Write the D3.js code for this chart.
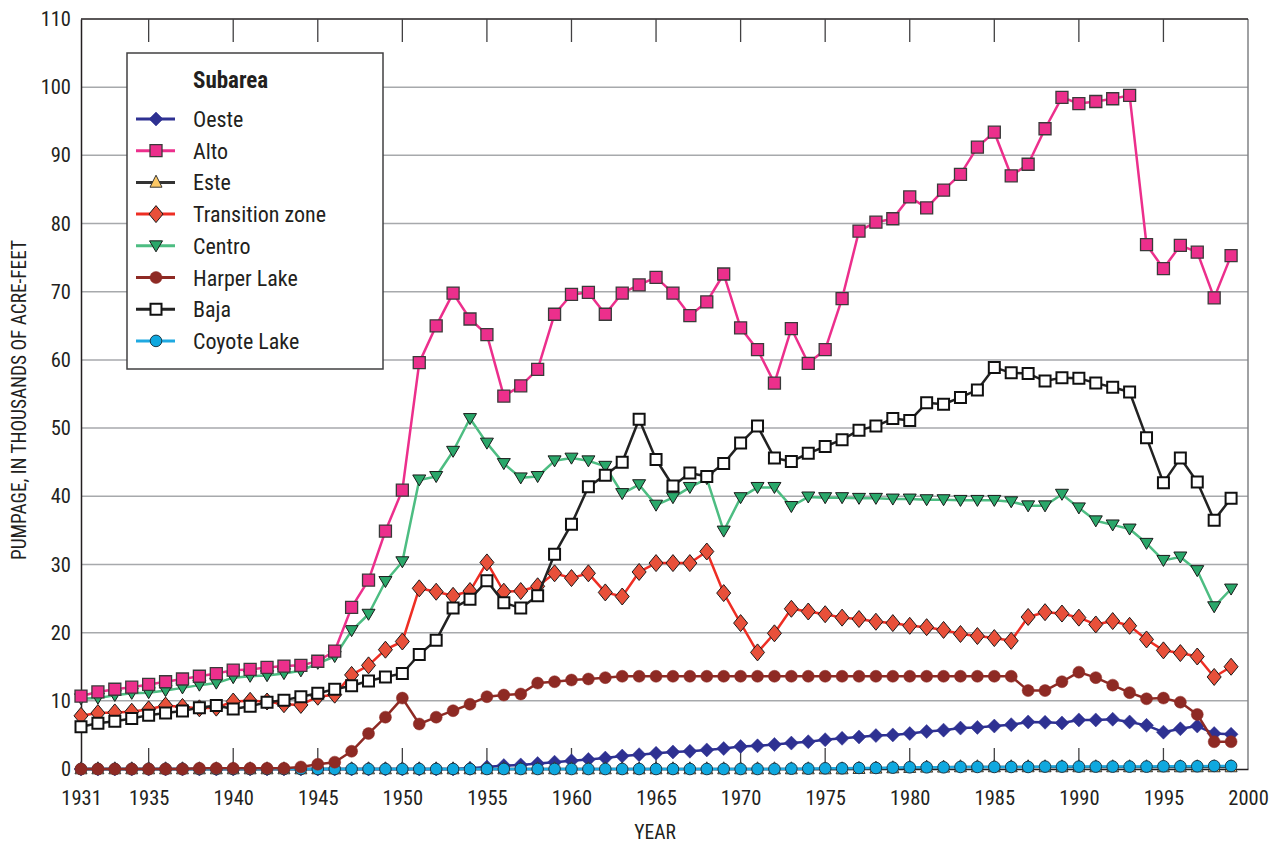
<!DOCTYPE html>
<html>
<head>
<meta charset="utf-8">
<script src="https://cdn.jsdelivr.net/npm/d3@7"></script>
<style>
  html, body { margin: 0; padding: 0; background: #fff; }
  svg { display: block; }
  text { font-family: "Liberation Sans Narrow", "Roboto Condensed", "DejaVu Sans Condensed", "Arial Narrow", sans-serif; fill: #231f20; }
</style>
</head>
<body>
<svg id="chart" width="1277" height="846"></svg>
<script>
const years = [1931,1932,1933,1934,1935,1936,1937,1938,1939,1940,
  1941,1942,1943,1944,1945,1946,1947,1948,1949,1950,
  1951,1952,1953,1954,1955,1956,1957,1958,1959,1960,
  1961,1962,1963,1964,1965,1966,1967,1968,1969,1970,
  1971,1972,1973,1974,1975,1976,1977,1978,1979,1980,
  1981,1982,1983,1984,1985,1986,1987,1988,1989,1990,
  1991,1992,1993,1994,1995,1996,1997,1998,1999];

const oeste = [0,0,0,0,0,0,0,0,0,0,
  0,0,0,0,0,0,0,0,0,0,
  0,0,0,0.1,0.3,0.5,0.6,0.8,1.0,1.2,
  1.4,1.6,1.9,2.1,2.3,2.5,2.6,2.8,3.0,3.3,
  3.4,3.6,3.8,4.0,4.3,4.5,4.7,4.9,5.0,5.2,
  5.5,5.7,6.0,6.1,6.3,6.5,6.9,6.85,6.75,7.2,
  7.2,7.3,6.9,6.4,5.4,5.9,6.3,5.2,5.1];

const alto = [10.7,11.3,11.7,12.0,12.4,12.8,13.2,13.6,14.0,14.5,
  14.6,14.9,15.1,15.2,15.8,17.3,23.7,27.7,34.9,40.9,
  59.6,65.0,69.8,66.0,63.7,54.7,56.2,58.6,66.7,69.6,
  69.9,66.7,69.8,71.0,72.1,69.8,66.5,68.5,72.6,64.7,
  61.5,56.6,64.6,59.5,61.5,69.0,78.9,80.2,80.7,83.9,
  82.3,84.9,87.2,91.2,93.4,87.0,88.7,93.9,98.5,97.6,
  97.9,98.3,98.8,76.9,73.4,76.8,75.8,69.1,75.3];

const este = [0,0,0,0,0,0,0,0,0,0,
  0,0,0,0,0,0,0,0,0,0,
  0,0,0,0,0,0,0,0,0,0,
  0,0,0,0,0,0,0,0,0,0,
  0,0,0,0,0,0,0.05,0.1,0.15,0.2,
  0.25,0.25,0.3,0.3,0.3,0.3,0.3,0.3,0.3,0.3,
  0.3,0.3,0.3,0.3,0.3,0.3,0.3,0.3,0.3];

const transition = [7.8,8.2,8.3,8.4,8.75,9.3,9.1,8.9,9.0,9.9,
  10.0,9.9,9.5,9.4,10.6,10.9,13.8,15.2,17.5,18.7,
  26.5,26.0,25.4,26.1,30.3,26.0,26.1,26.8,28.7,28.0,
  28.7,25.9,25.3,28.9,30.2,30.2,30.2,31.9,25.8,21.4,
  17.1,19.9,23.5,23.1,22.7,22.2,22.0,21.6,21.4,21.0,
  20.8,20.4,19.8,19.5,19.2,18.8,22.3,23.0,22.8,22.2,
  21.2,21.7,21.0,19.0,17.4,17.0,16.5,13.5,15.0];

const centro = [10.3,10.4,10.8,11.1,11.2,11.5,11.9,12.3,12.6,13.4,
  13.6,13.7,14.0,14.4,15.5,16.5,20.3,22.7,27.5,30.4,
  42.4,42.9,46.6,51.4,47.8,44.8,42.7,42.9,45.2,45.6,
  45.2,44.4,40.4,41.7,38.7,39.8,41.3,42.6,34.9,39.8,
  41.3,41.3,38.5,39.9,39.8,39.8,39.7,39.7,39.6,39.6,
  39.5,39.5,39.4,39.4,39.4,39.2,38.6,38.6,40.3,38.3,
  36.4,35.8,35.2,33.1,30.6,31.1,29.1,23.8,26.4];

const harper = [0,0,0,0,0,0,0,0.1,0.1,0.1,
  0.1,0.1,0.1,0.3,0.7,1.0,2.6,5.2,7.6,10.4,
  6.6,7.6,8.55,9.5,10.6,10.85,11.0,12.6,12.8,13.05,
  13.2,13.4,13.6,13.6,13.6,13.6,13.6,13.6,13.6,13.6,
  13.6,13.6,13.6,13.6,13.6,13.6,13.6,13.6,13.6,13.6,
  13.6,13.6,13.6,13.6,13.6,13.6,11.5,11.5,12.8,14.2,
  13.4,12.3,11.2,10.3,10.4,9.8,8.0,4.0,4.0];

const baja = [6.2,6.7,7.0,7.4,7.9,8.2,8.5,9.0,9.3,8.8,
  9.2,9.8,10.1,10.6,11.1,11.7,12.2,12.9,13.5,14.0,
  16.8,18.9,23.6,24.9,27.6,24.4,23.6,25.4,31.5,35.9,
  41.4,43.1,45.0,51.3,45.4,41.5,43.4,42.9,44.8,47.8,
  50.3,45.6,45.1,46.3,47.3,48.3,49.7,50.3,51.4,51.1,
  53.7,53.5,54.5,55.6,58.9,58.1,58.0,56.9,57.4,57.3,
  56.6,56.0,55.3,48.6,42.0,45.6,42.1,36.5,39.7];

const coyote = [0,0,0,0,0,0,0,0,0,0,
  0,0,0,0,0,0,0,0,0,0,
  0,0,0,0,0,0,0,0,0,0,
  0,0,0,0,0,0,0,0,0,0,
  0,0,0.05,0.05,0.1,0.1,0.15,0.15,0.2,0.25,
  0.25,0.25,0.3,0.3,0.3,0.3,0.3,0.35,0.35,0.35,
  0.35,0.35,0.35,0.35,0.4,0.4,0.4,0.45,0.45];

const xTickLabels = [1931,1935,1940,1945,1950,1955,1960,1965,1970,1975,1980,1985,1990,1995,2000];
const yTickLabels = [0,10,20,30,40,50,60,70,80,90,100,110];

const legendTitle = "Subarea";
const seriesNames = ["Oeste","Alto","Este","Transition zone","Centro","Harper Lake","Baja","Coyote Lake"];

// ---------- styles (separate from data) ----------
const styles = {
  "Oeste":          {data: oeste,      line: "#2e3192", fill: "#2e3192", stroke: "#2e3192", sw: 0.5, shape: "diamondS"},
  "Alto":           {data: alto,       line: "#ec2f8c", fill: "#ec2f8c", stroke: "#3a3a3a", sw: 1.3, shape: "square"},
  "Este":           {data: este,       line: "#333333", fill: "#fcc865", stroke: "#333333", sw: 1,   shape: "triUp"},
  "Transition zone":{data: transition, line: "#ee2e24", fill: "#e8503a", stroke: "#1a1a1a", sw: 1,   shape: "diamondL"},
  "Centro":         {data: centro,     line: "#4dbd82", fill: "#2aa76a", stroke: "#1a1a1a", sw: 1,   shape: "triDown"},
  "Harper Lake":    {data: harper,     line: "#8e2a24", fill: "#8e2a24", stroke: "#8e2a24", sw: 0.5, shape: "circle"},
  "Baja":           {data: baja,       line: "#222222", fill: "#ffffff", stroke: "#111111", sw: 2,   shape: "squareO"},
  "Coyote Lake":    {data: coyote,     line: "#1fa9e1", fill: "#0fa8df", stroke: "#1c3a4a", sw: 1,   shape: "circleC"}
};
const drawOrder = ["Centro","Alto","Transition zone","Baja","Oeste","Este","Coyote Lake","Harper Lake"];

function shapePath(shape) {
  switch (shape) {
    case "square":  { const s = 12; return `M${-s/2},${-s/2}h${s}v${s}h${-s}Z`; }
    case "squareO": { const s = 11; return `M${-s/2},${-s/2}h${s}v${s}h${-s}Z`; }
    case "diamondL":{ const w = 14, h = 17; return `M0,${-h/2}L${w/2},0L0,${h/2}L${-w/2},0Z`; }
    case "diamondS":{ const w = 14, h = 14; return `M0,${-h/2}L${w/2},0L0,${h/2}L${-w/2},0Z`; }
    case "triUp":   { const w = 12, h = 12; return `M0,${-h*0.6}L${w/2},${h*0.4}L${-w/2},${h*0.4}Z`; }
    case "triDown": { const w = 13, h = 11; return `M0,${h*0.55}L${w/2},${-h*0.45}L${-w/2},${-h*0.45}Z`; }
    case "circle":  { const r = 6; return `M${r},0A${r},${r},0,1,1,${-r},0A${r},${r},0,1,1,${r},0Z`; }
    case "circleC": { const r = 5.8; return `M${r},0A${r},${r},0,1,1,${-r},0A${r},${r},0,1,1,${r},0Z`; }
  }
}

const FONT = "'Liberation Sans Narrow','Roboto Condensed','DejaVu Sans Condensed',sans-serif";
const svg = d3.select("#chart");
const M = {left: 81, right: 1248, top: 19, bottom: 769};

const x = d3.scaleLinear().domain([1931, 2000]).range([M.left, M.right]);
const y = d3.scaleLinear().domain([0, 110]).range([M.bottom, M.top]);

// gridlines
svg.append("g").selectAll("line").data(yTickLabels.filter(v => v > 0 && v < 110)).join("line")
  .attr("x1", M.left).attr("x2", M.right)
  .attr("y1", d => y(d)).attr("y2", d => y(d))
  .attr("stroke", "#a7a9ac").attr("stroke-width", 1.5);

// frame
svg.append("line").attr("x1", M.right).attr("x2", M.right).attr("y1", M.top).attr("y2", M.bottom)
  .attr("stroke", "#808285").attr("stroke-width", 1.5);
svg.append("line").attr("x1", M.left).attr("x2", M.right).attr("y1", M.top).attr("y2", M.top)
  .attr("stroke", "#231f20").attr("stroke-width", 1.5);

// top inner ticks
const innerTicks = xTickLabels.filter(v => v > 1931 && v < 2000);
svg.append("g").selectAll("line").data(innerTicks).join("line")
  .attr("x1", d => x(d)).attr("x2", d => x(d))
  .attr("y1", M.top).attr("y2", M.top + 23)
  .attr("stroke", "#414042").attr("stroke-width", 1.3);

// bottom axis (ticks inward)
const xAxis = d3.axisBottom(x).tickValues(xTickLabels).tickFormat(d3.format("d")).tickSize(0).tickPadding(21);
const gx = svg.append("g").attr("transform", `translate(0,${M.bottom})`).call(xAxis);
gx.select(".domain").attr("stroke", "#231f20").attr("stroke-width", 1.5);
gx.selectAll("text").attr("font-size", 20.5).attr("fill", "#231f20").style("font-family", FONT);
svg.append("g").selectAll("line").data(innerTicks).join("line")
  .attr("x1", d => x(d)).attr("x2", d => x(d))
  .attr("y1", M.bottom).attr("y2", M.bottom - 21)
  .attr("stroke", "#414042").attr("stroke-width", 1.3);

// left axis
const yAxis = d3.axisLeft(y).tickValues(yTickLabels).tickSize(0).tickPadding(10);
const gy = svg.append("g").attr("transform", `translate(${M.left},0)`).call(yAxis);
gy.select(".domain").attr("stroke", "#231f20").attr("stroke-width", 1.5);
gy.selectAll("text").attr("font-size", 20.5).attr("fill", "#231f20").style("font-family", FONT);

// axis titles
svg.append("text").attr("x", 655).attr("y", 839).attr("text-anchor", "middle")
  .attr("font-size", 19.5).text("YEAR");
svg.append("text").attr("transform", `translate(26,400) rotate(-90)`)
  .attr("text-anchor", "middle").attr("font-size", 19.3)
  .text("PUMPAGE, IN THOUSANDS OF ACRE-FEET");

// legend box
const leg = svg.append("g");
leg.append("rect").attr("x", 127).attr("y", 53).attr("width", 256).attr("height", 316)
  .attr("fill", "#fff").attr("stroke", "#414042").attr("stroke-width", 1.5);
leg.append("text").attr("x", 193).attr("y", 88).attr("font-size", 23).attr("font-weight", "bold").text(legendTitle);
seriesNames.forEach((name, i) => {
  const st = styles[name];
  const cy = 119 + i * 31.7;
  leg.append("line").attr("x1", 136).attr("x2", 175).attr("y1", cy).attr("y2", cy)
    .attr("stroke", st.line).attr("stroke-width", 3);
  leg.append("path").attr("d", shapePath(st.shape)).attr("transform", `translate(156,${cy})`)
    .attr("fill", st.fill).attr("stroke", st.stroke).attr("stroke-width", st.sw);
  leg.append("text").attr("x", 193).attr("y", cy + 8).attr("font-size", 22).text(name);
});

// series
const lineGen = d3.line().x((d, i) => x(years[i])).y(d => y(d));
drawOrder.forEach(name => {
  const st = styles[name];
  const g = svg.append("g");
  g.append("path").datum(st.data).attr("d", lineGen)
    .attr("fill", "none").attr("stroke", st.line).attr("stroke-width", 2.5).attr("stroke-linejoin", "round");
  g.selectAll("path.m").data(st.data).join("path").attr("class", "m")
    .attr("d", shapePath(st.shape))
    .attr("transform", (d, i) => `translate(${x(years[i])},${y(d)})`)
    .attr("fill", st.fill).attr("stroke", st.stroke).attr("stroke-width", st.sw);
});
</script>
</body>
</html>
